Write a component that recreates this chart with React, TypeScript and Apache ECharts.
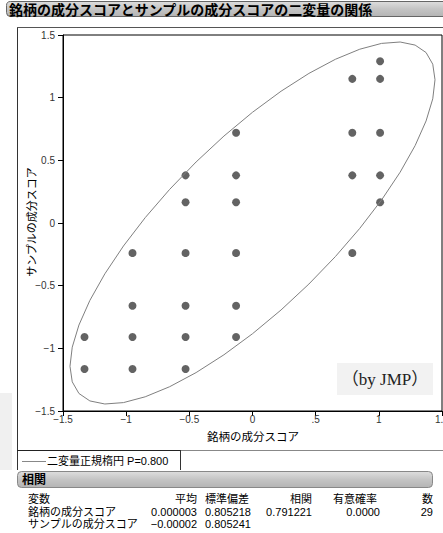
import React, { useEffect, useRef } from "react";
import * as echarts from "echarts";

// Data
const scoreX = [
  1.01,
  0.79, 1.01,
  -0.13, 0.79, 1.01,
  -0.53, -0.13, 0.79, 1.01,
  -0.53, -0.13, 1.01,
  -0.95, -0.53, -0.13, 0.79,
  -0.95, -0.53, -0.13,
  -1.33, -0.95, -0.53, -0.13,
  -1.33, -0.95, -0.53,
];
const scoreY = [
  1.29,
  1.15, 1.15,
  0.72, 0.72, 0.72,
  0.38, 0.38, 0.38, 0.38,
  0.165, 0.165, 0.165,
  -0.24, -0.24, -0.24, -0.24,
  -0.66, -0.66, -0.66,
  -0.91, -0.91, -0.91, -0.91,
  -1.165, -1.165, -1.165,
];

// Summary statistics (from the table)
const varNames = ["銘柄の成分スコア", "サンプルの成分スコア"];
const means = [0.000003, -0.00002];
const meanLabels = ["0.000003", "−0.00002"];
const sds = [0.805218, 0.805241];
const sdLabels = ["0.805218", "0.805241"];
const corr = 0.791221;
const corrLabel = "0.791221";
const pLabel = "0.0000";
const nLabel = "29";
const ellipseP = 0.8;

const xTickLabels = ["−1.5", "−1", "−0.5", "0", ".5", "1", "1.5"];
const yTickLabels = ["−1.5", "−1", "−0.5", "0", "0.5", "1", "1.5"];

const FONT = "'Liberation Sans', Arial, 'Noto Sans CJK JP', sans-serif";

function ellipsePoints(): number[][] {
  const c = Math.sqrt(-2 * Math.log(1 - ellipseP));
  const pts: number[][] = [];
  const n = 40;
  for (let i = 0; i <= n; i++) {
    const t = (i / n) * Math.PI * 2;
    const x = means[0] + c * sds[0] * Math.cos(t);
    const y =
      means[1] +
      c * sds[1] * (corr * Math.cos(t) + Math.sqrt(1 - corr * corr) * Math.sin(t));
    pts.push([x, y]);
  }
  return pts;
}

function txt(
  x: number,
  y: number,
  text: string,
  opts: { size?: number; align?: string; weight?: string; fill?: string; family?: string; rotation?: number } = {}
) {
  const align = opts.align || "left";
  return {
    type: "text",
    x,
    y,
    rotation: opts.rotation || 0,
    silent: true,
    style: {
      text,
      fill: opts.fill || "#000",
      fontSize: opts.size || 11,
      fontWeight: opts.weight || "normal",
      fontFamily: opts.family || FONT,
      align,
      textAlign: align,
      verticalAlign: "middle",
      textVerticalAlign: "middle",
    },
  };
}

export default function App() {
  const ref = useRef<HTMLDivElement>(null);

  useEffect(() => {
    if (!ref.current) return;
    const chart = echarts.init(ref.current, null, { renderer: "svg" });
    const points = scoreX.map((x, i) => [x, scoreY[i]]);

    const barGrad = () =>
      new echarts.graphic.LinearGradient(0, 0, 0, 1, [
        { offset: 0, color: "#dedede" },
        { offset: 0.5, color: "#c4c4c4" },
        { offset: 1, color: "#b4b4b4" },
      ]);

    const rowY = [499, 512, 524];
    const graphic: any[] = [
      // left light box
      { type: "rect", shape: { x: 0, y: 393, width: 12, height: 77 }, style: { fill: "#f0f0f0" }, silent: true },
      // title bar
      {
        type: "rect",
        shape: { x: 6.5, y: 1.5, width: 445, height: 15, r: [4, 0, 0, 4] },
        style: { fill: barGrad(), stroke: "#666", lineWidth: 1 },
        silent: true,
      },
      txt(9, 9.5, "銘柄の成分スコアとサンプルの成分スコアの二変量の関係", { size: 14, weight: "bold" }),
      // frame
      { type: "line", shape: { x1: 17.5, y1: 27, x2: 17.5, y2: 470 }, style: { stroke: "#333", lineWidth: 1 }, silent: true },
      { type: "line", shape: { x1: 17, y1: 27.5, x2: 443, y2: 27.5 }, style: { stroke: "#555", lineWidth: 1 }, silent: true },
      { type: "line", shape: { x1: 17, y1: 450.5, x2: 180, y2: 450.5 }, style: { stroke: "#222", lineWidth: 1 }, silent: true },
      { type: "line", shape: { x1: 180, y1: 450.5, x2: 443, y2: 450.5 }, style: { stroke: "#888", lineWidth: 1 }, silent: true },
      { type: "line", shape: { x1: 180.5, y1: 450, x2: 180.5, y2: 470 }, style: { stroke: "#333", lineWidth: 1 }, silent: true },
      // legend
      { type: "line", shape: { x1: 22, y1: 461.5, x2: 46, y2: 461.5 }, style: { stroke: "#888", lineWidth: 1 }, silent: true },
      txt(47, 461, "二変量正規楕円 P=0.800", { size: 11 }),
      // by JMP
      { type: "rect", shape: { x: 337, y: 363, width: 96, height: 32 }, style: { fill: "#f2f2f2" }, silent: true },
      txt(385, 379.5, "（by JMP）", { size: 17, align: "center", fill: "#222", family: "'Liberation Serif', 'Noto Sans CJK JP', serif" }),
      // axis titles
      txt(32, 222, "サンプルの成分スコア", { size: 11, align: "center", rotation: Math.PI / 2 }),
      txt(253, 437, "銘柄の成分スコア", { size: 11.5, align: "center" }),
      // correlation bar
      {
        type: "rect",
        shape: { x: 17.5, y: 471.5, width: 415, height: 16, r: 4 },
        style: { fill: barGrad(), stroke: "#888", lineWidth: 1 },
        silent: true,
      },
      txt(22, 480, "相関", { size: 12, weight: "bold" }),
      // table header
      txt(28, rowY[0], "変数"),
      txt(197, rowY[0], "平均", { align: "right" }),
      txt(205, rowY[0], "標準偏差"),
      txt(312, rowY[0], "相関", { align: "right" }),
      txt(333, rowY[0], "有意確率"),
      txt(433, rowY[0], "数", { align: "right" }),
      // rows
      txt(28, rowY[1], varNames[0]),
      txt(197, rowY[1], meanLabels[0], { align: "right" }),
      txt(205, rowY[1], sdLabels[0]),
      txt(312, rowY[1], corrLabel, { align: "right" }),
      txt(380, rowY[1], pLabel, { align: "right" }),
      txt(433, rowY[1], nLabel, { align: "right" }),
      txt(28, rowY[2], varNames[1]),
      txt(197, rowY[2], meanLabels[1], { align: "right" }),
      txt(205, rowY[2], sdLabels[1]),
    ];

    chart.setOption({
      animation: false,
      grid: {
        left: 63,
        right: 1,
        top: 35,
        bottom: 122,
        show: true,
        borderColor: "#000",
        borderWidth: 1,
        backgroundColor: "transparent",
        containLabel: false,
        outerBoundsMode: "none",
      },
      xAxis: {
        type: "value",
        min: -1.5,
        max: 1.5,
        interval: 0.5,
        axisLine: { show: true, onZero: false, lineStyle: { color: "#000", width: 1 } },
        axisTick: { show: true, length: 5, lineStyle: { color: "#000" } },
        splitLine: { show: false },
        axisLabel: {
          fontSize: 10,
          color: "#333",
          fontFamily: FONT,
          margin: 3,
          hideOverlap: false,
          formatter: (v: number) => xTickLabels[Math.round((v + 1.5) / 0.5)] ?? "",
        },
      },
      yAxis: {
        type: "value",
        min: -1.5,
        max: 1.5,
        interval: 0.5,
        axisLine: { show: true, onZero: false, lineStyle: { color: "#000", width: 1 } },
        axisTick: { show: true, length: 5, lineStyle: { color: "#000" } },
        splitLine: { show: false },
        axisLabel: {
          fontSize: 10,
          color: "#333",
          fontFamily: FONT,
          margin: 8,
          formatter: (v: number) => yTickLabels[Math.round((v + 1.5) / 0.5)] ?? "",
        },
      },
      series: [
        {
          type: "line",
          data: ellipsePoints(),
          showSymbol: false,
          smooth: false,
          lineStyle: { color: "#808080", width: 1 },
          silent: true,
          clip: false,
        },
        {
          type: "scatter",
          data: points,
          symbolSize: 8,
          itemStyle: { color: "#3c3c3c" },
        },
      ],
      graphic,
    });
    return () => chart.dispose();
  }, []);

  return (
    <div
      ref={ref}
      style={{ position: "fixed", left: 0, top: 0, width: 443, height: 533, background: "#fff" }}
    />
  );
}
